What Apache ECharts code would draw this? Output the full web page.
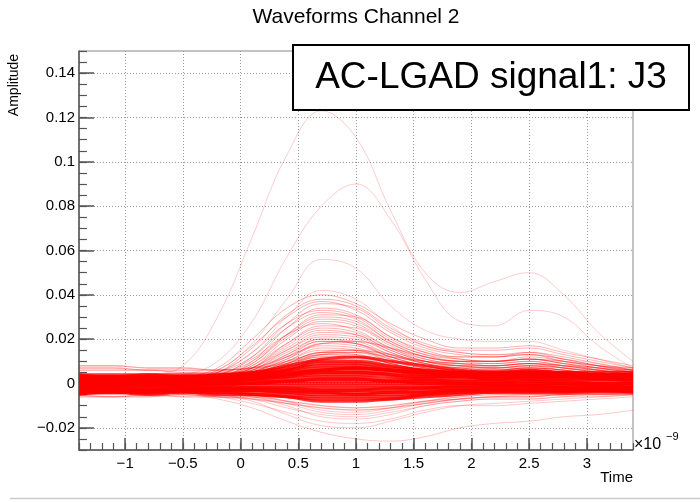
<!DOCTYPE html>
<html><head><meta charset="utf-8">
<script src="https://cdn.jsdelivr.net/npm/echarts@6/dist/echarts.min.js"></script>
<style>html,body{margin:0;padding:0;background:#fff}#c{width:700px;height:502px}</style>
</head><body><div id="c"></div>
<script>
// Time in units of 1e-9 s, amplitudes in units of 1e-3
const timeNs = [-1.4,-1.1,-0.8,-0.5,-0.2,0.1,0.4,0.7,1.0,1.3,1.6,1.9,2.2,2.5,2.8,3.1,3.4];
const majorTimeTicks = [-1,-0.5,0,0.5,1,1.5,2,2.5,3];
const amplitudeTicks = [-20,0,20,40,60,80,100,120,140];

const outlierWaves = [
  [2,3,4,8,30,66,103,123,111,78,50,41,46,50,40,23,10],
  [1,2,3,4,10,28,57,80,90,74,47,28,26,33,30,17,7],
  [1,2,2,3,6,18,38,56,52,35,24,20,19,19,15,11,7],
  [2,2,3,3,5,14,30,42,38,26,17,14,13,13,11,9,6]
];
const upperWaves = [
  [3,3,2,3,7,20,34,40,36,27,20,16,16,17,14,11,8],
  [2,2,3,2,5,16,31,38,35,25,18,15,15,16,13,10,7],
  [1,2,2,2,6,17,30,37,33,23,16,13,12,14,12,9,6],
  [3,2,2,3,4,12,27,36,34,24,17,14,13,14,11,8,6],
  [2,3,3,2,3,10,25,34,31,21,15,12,12,13,11,8,5],
  [1,1,2,2,5,14,27,33,30,20,14,12,12,13,10,8,6],
  [2,2,2,3,5,12,25,32,29,19,13,11,10,12,10,7,5],
  [1,2,1,2,3,9,22,31,30,21,14,11,10,11,9,7,5],
  [3,3,2,2,4,10,22,30,28,19,13,10,10,11,9,7,5],
  [0,1,1,1,3,9,21,29,27,18,12,10,10,11,9,6,4],
  [2,2,2,2,3,8,20,28,26,18,12,10,9,10,8,6,4],
  [1,1,2,2,4,11,22,27,24,16,11,9,9,10,8,6,5],
  [2,1,1,1,2,7,18,26,25,17,11,9,8,9,8,6,4],
  [1,2,2,2,3,8,18,25,23,16,10,8,8,9,7,5,3],
  [0,0,1,1,2,7,17,24,22,15,10,8,8,9,7,5,3],
  [2,2,2,1,3,7,16,23,22,15,10,8,7,8,7,5,3],
  [1,1,1,1,2,6,15,22,21,14,9,7,7,8,6,5,3],
  [3,2,2,2,3,7,15,21,20,14,9,7,7,7,6,4,3],
  [1,1,1,0,2,5,13,20,19,13,9,7,6,7,6,4,3],
  [2,2,1,1,2,6,14,20,18,12,8,6,6,7,6,4,2],
  [0,1,1,1,2,5,12,19,18,12,8,6,6,7,5,4,2],
  [2,1,2,2,3,6,13,19,18,13,9,7,6,7,6,4,3],
  [1,1,1,1,2,5,11,18,17,12,8,6,6,6,5,3,2],
  [1,2,1,1,2,5,11,17,16,11,7,6,5,6,5,3,2],
  [0,0,1,0,1,4,10,16,15,11,7,5,5,6,5,3,2],
  [2,2,2,1,2,4,10,15,15,10,7,6,6,6,5,4,3],
  [1,1,1,1,1,4,9,14,14,10,7,5,5,6,5,3,2],
  [1,1,0,1,2,4,9,14,13,9,6,5,5,5,4,3,2],
  [0,1,1,0,1,3,8,13,13,9,6,5,4,5,4,3,2],
  [2,1,1,1,1,3,8,12,12,9,6,5,5,5,4,3,2],
  [1,1,1,1,2,4,9,13,12,9,6,5,4,5,4,3,2],
  [2,2,1,2,2,4,8,12,12,8,6,5,5,5,4,3,3],
  [0,0,1,1,1,3,7,11,11,8,5,4,4,5,4,3,2],
  [1,1,1,0,1,3,7,11,10,8,6,4,4,4,4,3,2],
  [2,1,2,1,2,3,6,10,10,7,5,4,4,4,3,3,2],
  [1,2,1,1,1,3,6,10,9,7,5,4,3,4,3,2,2]
];
const edgeWaves = [
  [7,7,6,6,6,7,9,13,14,12,10,8,7,8,7,6,6],
  [6,6,6,5,5,6,10,14,15,13,10,9,8,9,8,7,6],
  [8,8,7,7,6,7,12,18,19,16,12,10,10,11,10,8,7],
  [-6,-6,-6,-5,-6,-7,-9,-11,-12,-11,-9,-7,-6,-6,-5,-5,-5],
  [-5,-6,-5,-6,-6,-6,-8,-10,-11,-10,-8,-6,-5,-5,-5,-4,-4]
];
const coreWaves = [
  [4,4,4,4,4,5,8,11,12,10,8,6,5,6,5,5,5],
  [3,3,3,3,4,5,7,10,10,8,6,5,5,5,5,4,4],
  [3,3,2,3,3,4,6,9,9,7,6,5,4,5,4,4,4],
  [2,2,2,2,3,4,6,8,8,6,5,4,4,4,4,3,3],
  [2,2,2,2,2,3,5,7,7,6,4,4,3,4,3,3,3],
  [1,2,2,1,2,3,4,6,6,5,4,3,3,3,3,3,2],
  [1,1,1,1,2,2,4,5,5,4,3,3,2,3,2,2,2],
  [1,1,1,1,1,2,3,4,4,3,2,2,2,2,2,2,1],
  [0,1,0,0,1,1,2,3,3,2,2,1,1,2,1,1,1],
  [0,0,0,0,0,1,1,2,2,1,1,1,1,1,1,0,0],
  [-1,0,-1,0,0,0,1,1,1,1,0,0,0,0,0,0,0],
  [-1,-1,-1,-1,-1,0,0,0,0,0,0,0,0,0,0,-1,-1],
  [-2,-1,-1,-1,-1,-1,-1,-1,-1,-1,-1,-1,-1,-1,-1,-1,-1],
  [-2,-2,-2,-2,-2,-2,-2,-2,-2,-2,-2,-1,-1,-1,-1,-1,-2],
  [-2,-2,-2,-2,-2,-2,-3,-3,-3,-3,-2,-2,-2,-2,-2,-2,-2],
  [-3,-3,-3,-3,-3,-3,-3,-4,-4,-4,-3,-3,-2,-2,-2,-2,-2],
  [-3,-3,-3,-3,-3,-3,-4,-5,-5,-5,-4,-3,-3,-3,-3,-3,-3],
  [-4,-4,-4,-3,-4,-4,-5,-6,-6,-6,-5,-4,-3,-3,-3,-3,-3],
  [-4,-4,-4,-4,-4,-5,-6,-7,-7,-7,-5,-4,-4,-4,-4,-3,-4],
  [-5,-4,-5,-4,-5,-5,-6,-8,-8,-7,-6,-5,-4,-4,-4,-4,-4],
  [3,2,3,2,3,4,5,6,7,6,5,4,4,4,4,4,3],
  [1,0,1,1,1,2,3,5,5,4,3,3,2,3,3,2,2],
  [-1,-1,0,-1,0,0,1,2,2,1,1,0,0,1,0,0,0],
  [-3,-2,-3,-2,-2,-2,-2,-3,-3,-2,-2,-2,-1,-1,-2,-2,-2],
  [4,3,4,3,3,3,4,6,7,6,5,5,4,5,4,4,4],
  [-4,-3,-4,-3,-3,-3,-4,-4,-5,-4,-4,-3,-3,-3,-3,-3,-3]
];
const lowerWaves = [
  [-4,-4,-5,-5,-7,-11,-17,-22,-25,-26,-24,-20,-18,-17,-15,-14,-12],
  [-4,-5,-4,-5,-6,-9,-13,-17,-18,-16,-12,-10,-10,-9,-8,-7,-6],
  [-3,-4,-4,-4,-5,-7,-11,-14,-15,-13,-10,-8,-7,-7,-6,-6,-5],
  [-5,-5,-5,-4,-5,-6,-9,-13,-14,-12,-9,-7,-6,-6,-5,-5,-4],
  [-2,-3,-3,-3,-4,-6,-10,-15,-16,-14,-10,-8,-7,-7,-6,-5,-5],
  [-3,-3,-3,-3,-3,-5,-8,-12,-13,-11,-8,-7,-6,-5,-5,-4,-4],
  [-4,-3,-4,-4,-5,-8,-14,-19,-20,-17,-13,-10,-9,-8,-7,-6,-5]
];

const FONT = 'Liberation Sans, Arial, Helvetica, sans-serif';
const chart = echarts.init(document.getElementById('c'), null, {renderer: 'canvas'});

function mk(w, color, width) {
  return {
    type: 'line', xAxisIndex: 0, yAxisIndex: 0,
    data: timeNs.map((t, i) => [t, w[i]]),
    smooth: 0.4, symbol: 'none', silent: true, clip: true,
    lineStyle: {color: color, width: width}
  };
}
const series = [];
coreWaves.forEach(w => series.push(mk(w, 'rgba(255,0,0,0.8)', 3)));
edgeWaves.forEach(w => series.push(mk(w, 'rgba(255,0,0,0.35)', 1.3)));
lowerWaves.forEach(w => series.push(mk(w, 'rgba(255,0,0,0.22)', 1)));
upperWaves.forEach(w => series.push(mk(w, 'rgba(255,0,0,0.3)', 1)));
outlierWaves.forEach(w => series.push(mk(w, 'rgba(255,0,0,0.2)', 1)));

const minus = v => (v < 0 ? '\u2212' : '') + String(Math.abs(v));
const axisColor = '#555';

chart.setOption({
  animation: false,
  backgroundColor: '#fff',
  grid: {left: 79, right: 67, top: 51, bottom: 52, show: true, borderColor: '#888', borderWidth: 1, backgroundColor: 'transparent'},
  xAxis: [
    {type: 'value', min: -1.4, max: 3.4, position: 'bottom',
     axisLine: {show: true, onZero: false, lineStyle: {color: axisColor, width: 1.5}},
     axisTick: {show: true, inside: true, length: 12, customValues: majorTimeTicks, lineStyle: {color: axisColor, width: 1.5}},
     axisLabel: {customValues: majorTimeTicks, formatter: v => minus(v), fontSize: 15, color: '#000', margin: 6, fontFamily: FONT},
     splitLine: {show: true, lineStyle: {color: '#999', type: [1, 2], width: 1}}},
    {type: 'value', min: -1.4, max: 3.4, interval: 0.1, position: 'bottom',
     axisLine: {show: false, onZero: false},
     axisTick: {show: true, inside: true, length: 7, lineStyle: {color: axisColor, width: 1.2}},
     axisLabel: {show: false}, splitLine: {show: false}}
  ],
  yAxis: [
    {type: 'value', min: -30, max: 150, position: 'left',
     axisLine: {show: true, onZero: false, lineStyle: {color: axisColor, width: 1.5}},
     axisTick: {show: true, inside: true, length: 15, customValues: amplitudeTicks, lineStyle: {color: axisColor, width: 1.5}},
     axisLabel: {customValues: amplitudeTicks, formatter: v => minus(v / 1000), fontSize: 15, color: '#000', margin: 4, fontFamily: FONT},
     splitLine: {show: true, lineStyle: {color: '#999', type: [1, 2], width: 1}}},
    {type: 'value', min: -30, max: 150, interval: 5, position: 'left',
     axisLine: {show: false, onZero: false},
     axisTick: {show: true, inside: true, length: 8, lineStyle: {color: axisColor, width: 1.2}},
     axisLabel: {show: false}, splitLine: {show: false}}
  ],
  series: series,
  graphic: [
    {type: 'text', x: 356, y: 17, style: {text: 'Waveforms Channel 2', font: '21px ' + FONT, fill: '#000', textAlign: 'center', textVerticalAlign: 'middle'}},
    {type: 'text', x: 14, y: 85, rotation: Math.PI / 2, style: {text: 'Amplitude', font: '14px ' + FONT, fill: '#000', textAlign: 'center', textVerticalAlign: 'middle'}},
    {type: 'text', x: 633, y: 478, style: {text: 'Time', font: '15px ' + FONT, fill: '#000', textAlign: 'right', textVerticalAlign: 'middle'}},
    {type: 'text', x: 634, y: 445, style: {text: '\u00d710', font: '16px ' + FONT, fill: '#000', textAlign: 'left', textVerticalAlign: 'middle'}},
    {type: 'text', x: 666, y: 437, style: {text: '\u22129', font: '11px ' + FONT, fill: '#000', textAlign: 'left', textVerticalAlign: 'middle'}},
    {type: 'rect', shape: {x: 293, y: 45, width: 396, height: 65}, style: {fill: '#fff', stroke: '#000', lineWidth: 2}, z: 100},
    {type: 'text', x: 491, y: 78, z: 101, style: {text: 'AC-LGAD signal1: J3', font: '37px ' + FONT, fill: '#000', textAlign: 'center', textVerticalAlign: 'middle'}},
    {type: 'line', shape: {x1: 10, y1: 498.5, x2: 700, y2: 498.5}, style: {stroke: '#ccc', lineWidth: 1.5}}
  ]
});
</script></body></html>
